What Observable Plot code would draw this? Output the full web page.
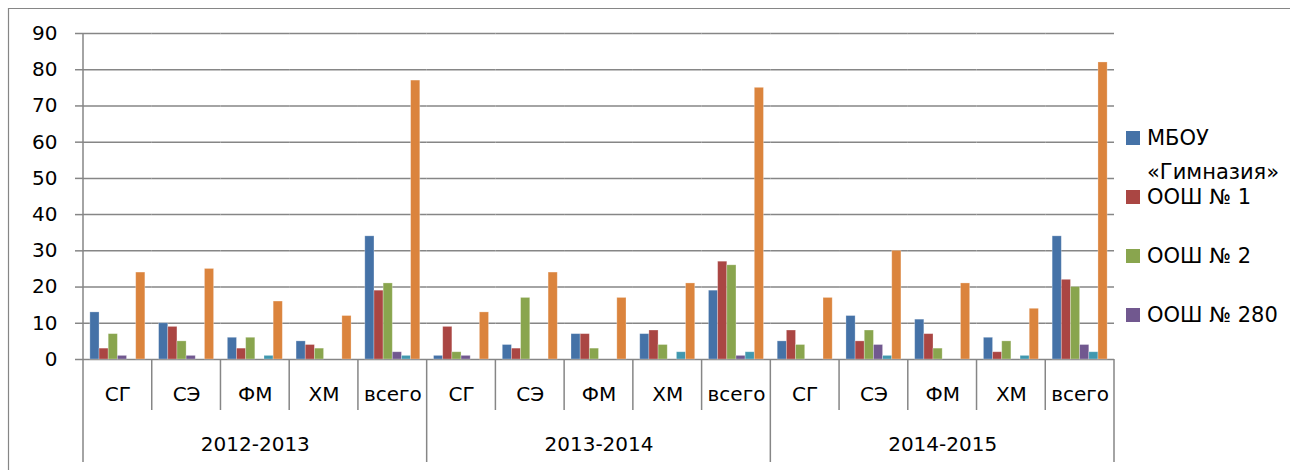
<!DOCTYPE html>
<html><head><meta charset="utf-8">
<script src="https://cdn.jsdelivr.net/npm/d3@7"></script>
<script src="https://cdn.jsdelivr.net/npm/@observablehq/plot@0.6"></script>
<style>body{margin:0;background:#fff} #chart{position:relative;width:1290px;height:470px}</style>
</head><body><div id="chart"></div>
<script>
const years = ["2012-2013", "2013-2014", "2014-2015"];
const categories = ["СГ", "СЭ", "ФМ", "ХМ", "всего"];
const series = ["МБОУ «Гимназия»", "ООШ № 1", "ООШ № 2", "ООШ № 280", "Прочие", "Всего"];
const legendLines = [["МБОУ", "«Гимназия»"], ["ООШ № 1"], ["ООШ № 2"], ["ООШ № 280"]];
const colors = ["#4572A7", "#AA4643", "#89A54E", "#71588F", "#4198AF", "#DB843D"];
const yTicks = [0, 10, 20, 30, 40, 50, 60, 70, 80, 90];
// values per (year, category), in order years x categories
const gymnasium = [13, 10, 6, 5, 34,   1, 4, 7, 7, 19,   5, 12, 11, 6, 34];
const school1   = [3, 9, 3, 4, 19,     9, 3, 7, 8, 27,   8, 5, 7, 2, 22];
const school2   = [7, 5, 6, 3, 21,     2, 17, 3, 4, 26,  4, 8, 3, 5, 20];
const school280 = [1, 1, 0, 0, 2,      1, 0, 0, 0, 1,    0, 4, 0, 0, 4];
const other     = [0, 0, 1, 0, 1,      0, 0, 0, 2, 2,    0, 1, 0, 1, 2];
const total     = [24, 25, 16, 12, 77, 13, 24, 17, 21, 75, 17, 30, 21, 14, 82];
const seriesValues = [gymnasium, school1, school2, school280, other, total];

const keys = [];
const catRows = [];
years.forEach(y => categories.forEach(c => { keys.push(y + "|" + c); catRows.push({key: y + "|" + c, cat: c}); }));
const rows = [];
keys.forEach((k, i) => series.forEach((s, j) => {
  const v = seriesValues[j][i];
  if (v > 0) rows.push({key: k, series: s, value: v});
}));
const yearRows = years.map(y => ({year: y, key: y + "|" + categories[2]}));

const font = "DejaVu Sans";
const gridColor = "#868686";

const plot = Plot.plot({
  width: 1290, height: 470,
  marginLeft: 83, marginRight: 176, marginTop: 33, marginBottom: 111,
  style: {fontFamily: font, fontSize: "20px", background: "white", color: "#000", overflow: "visible"},
  fx: {domain: keys, paddingInner: 0, paddingOuter: 0, round: false, axis: null, label: null},
  x: {domain: series, paddingInner: 0, paddingOuter: 0.75, round: false, axis: null},
  y: {domain: [0, 90], axis: null},
  color: {domain: series, range: colors},
  marks: [
    Plot.gridY(yTicks, {stroke: gridColor, strokeOpacity: 1, strokeWidth: 1.5}),
    Plot.barY(rows, {fx: "key", x: "series", y: "value", fill: "series", stroke: "white", strokeOpacity: 0.35, strokeWidth: 0.8}),
    Plot.axisY(yTicks, {tickSize: 8, tickPadding: 18, stroke: gridColor, strokeWidth: 1.5, fill: "black", fontSize: 20, label: null}),
    Plot.text(catRows, {fx: "key", text: "cat", frameAnchor: "bottom", dy: 35, lineAnchor: "middle", fontSize: 20, fill: "black"}),
    Plot.text(yearRows, {fx: "key", text: "year", frameAnchor: "bottom", dy: 85, lineAnchor: "middle", fontSize: 20, fill: "black"})
  ]
});
document.getElementById("chart").appendChild(plot);

// separators and frame lines
const svg = d3.select(plot);
const fx = plot.scale("fx");
const yS = plot.scale("y");
const y0 = yS.apply(0), yTop = yS.apply(90);
const g = svg.append("g").attr("stroke", gridColor).attr("stroke-width", 1.5);
keys.forEach((k, i) => {
  const x = fx.apply(k);
  const isYear = i % categories.length === 0;
  g.append("line").attr("x1", x).attr("x2", x).attr("y1", i === 0 ? yTop : y0).attr("y2", isYear ? y0 + 103 : y0 + 51);
});
const xEnd = fx.apply(keys[keys.length - 1]) + fx.bandwidth;
g.append("line").attr("x1", xEnd).attr("x2", xEnd).attr("y1", y0).attr("y2", y0 + 103);
// outer chart frame (partially visible)
g.append("line").attr("x1", 8).attr("x2", 1290).attr("y1", 8.5).attr("y2", 8.5).attr("stroke-width", 1.2);
g.append("line").attr("x1", 8.5).attr("x2", 8.5).attr("y1", 8).attr("y2", 470).attr("stroke-width", 1.2);

// legend
const color = plot.scale("color");
const leg = svg.append("g").attr("font-family", font).attr("font-size", 21).attr("text-anchor", "start");
legendLines.forEach((lines, i) => {
  const cy = 138 + i * 59;
  leg.append("rect").attr("x", 1126).attr("y", cy - 7).attr("width", 14).attr("height", 14).attr("fill", color.apply(series[i]));
  lines.forEach((t, li) => {
    leg.append("text").attr("x", 1147).attr("y", cy + li * 34).attr("dy", "0.35em").attr("text-anchor", "start").attr("fill", "black").text(t);
  });
});
</script>
</body></html>
